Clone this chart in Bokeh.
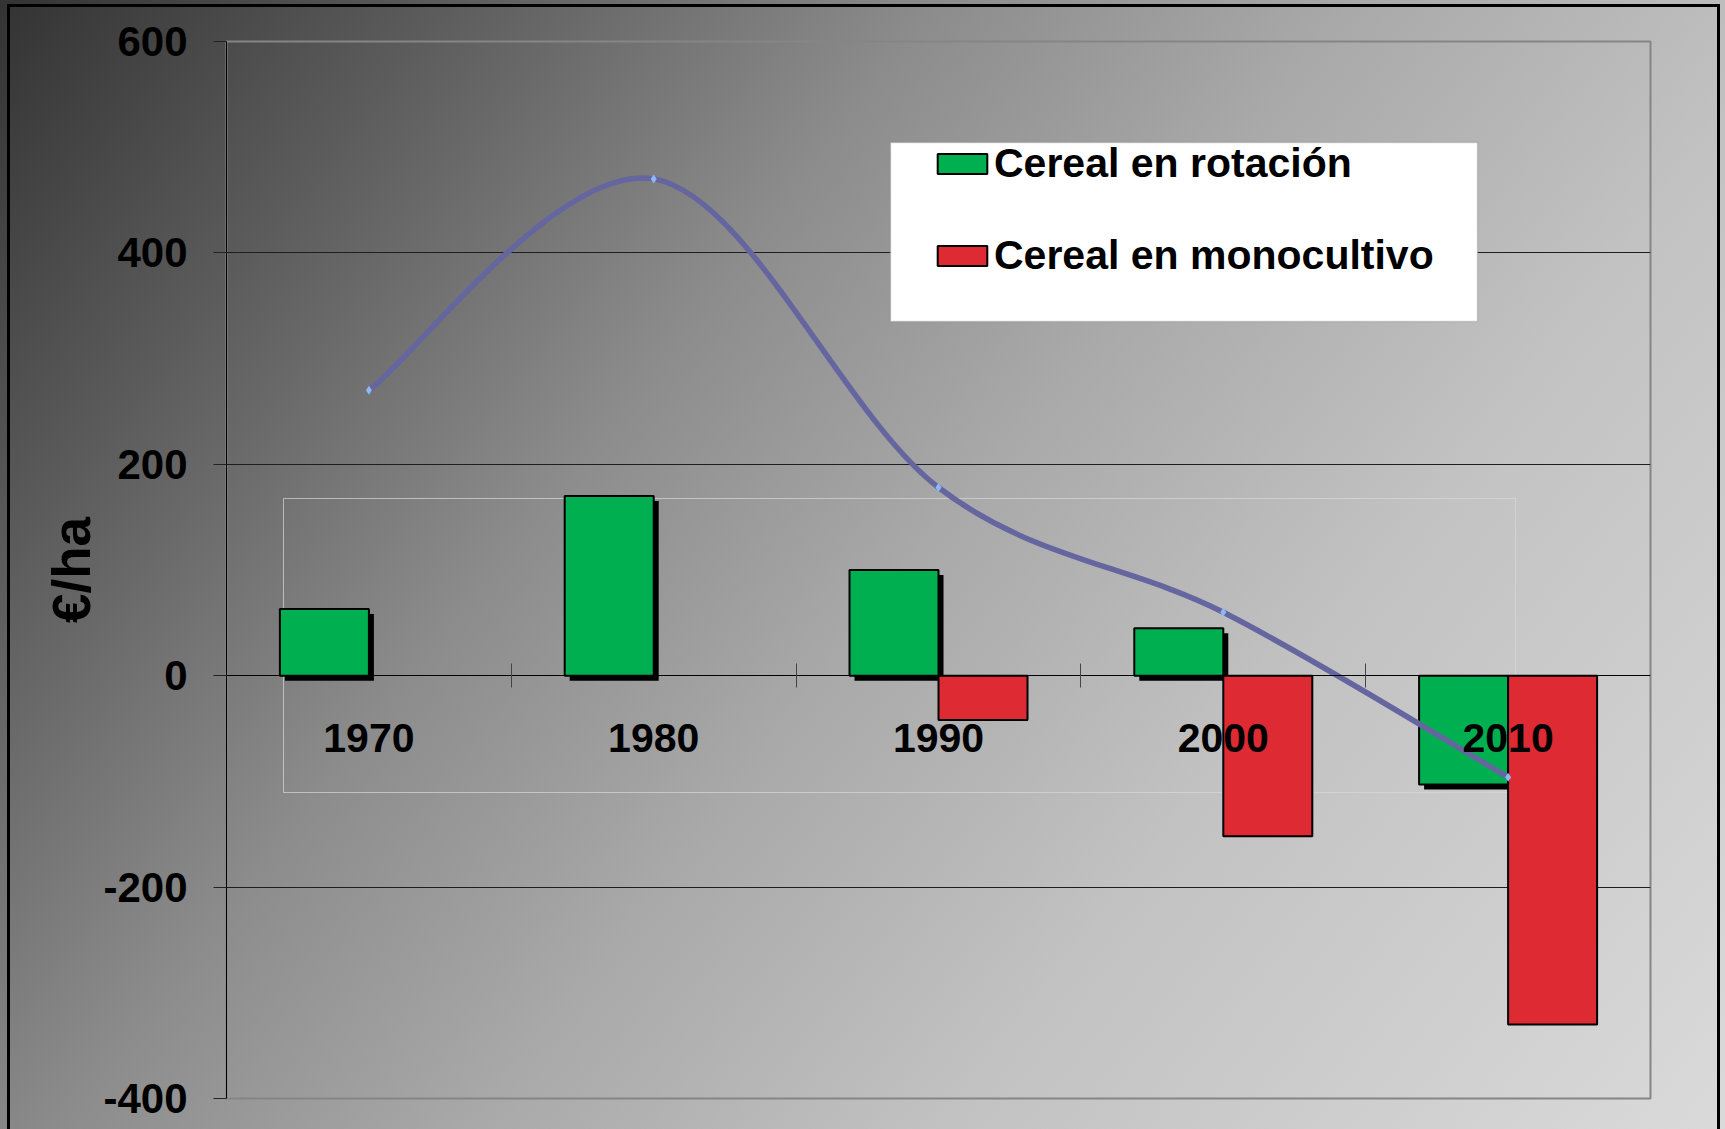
import numpy as np
from bokeh.plotting import figure
from bokeh.models import (ColumnDataSource, Range1d, LinearAxis, FixedTicker,
                          Legend, LegendItem, BoxAnnotation)
from bokeh.transform import dodge
from bokeh.embed import file_html
from bokeh.resources import INLINE

# ---------------- data ----------------
years = ["1970", "1980", "1990", "2000", "2010"]
rotacion = [63, 170, 100, 45, -103]                 # Cereal en rotación
monocultivo = [np.nan, np.nan, -42, -152, -330]     # Cereal en monocultivo
tendencia = [270, 470, 178, 60, -96]                # smoothed line
y_ticks = [-400, -200, 0, 200, 400, 600]
y_tick_labels = ["-400", "-200", "0", "200", "400", "600"]

# ---------------- layout / style ----------------
W, H = 1725, 1129
ML, MR, MT, MB = 226, 75, 41, 31
X0, X1 = 0, len(years)
Y0, Y1 = -400, 600
FONT = "Liberation Sans"
GREEN = "#00b050"
RED = "#de2a33"
LINE = "#6565a0"
BAR_W = 0.3125

FL, FR, FT, FB = ML, W - MR, MT, H - MB   # frame in canvas px


def px_x(px):
    return X0 + (px - FL) / (FR - FL) * (X1 - X0)


def px_y(py):
    return Y1 - (py - FT) / (FB - FT) * (Y1 - Y0)


SHADOW_DX = 5 / (FR - FL) * (X1 - X0)
SHADOW_DY = 5 / (FB - FT) * (Y1 - Y0)

xs = np.arange(len(years)) + 0.5
src = ColumnDataSource(dict(x=xs, rot=rotacion, mono=monocultivo))

p = figure(width=W, height=H, output_backend="svg", toolbar_location=None,
           x_range=Range1d(X0, X1), y_range=Range1d(Y0, Y1),
           x_axis_type=None, min_border_left=ML, min_border_right=MR,
           min_border_top=MT, min_border_bottom=MB)
p.styles = {
    "background":
        "linear-gradient(#000,#000) 7px 4px / 3px 100% no-repeat, "
        "linear-gradient(#000,#000) 7px 4px / 1713px 3px no-repeat, "
        "linear-gradient(#000,#000) 1717px 4px / 3px 100% no-repeat, "
        "linear-gradient(128deg, #333333 0%, #5e5e5e 18%, #8c8c8c 36%, "
        "#a9a9a9 52%, #c2c2c2 70%, #dadada 100%)",
}
p.background_fill_alpha = 0
p.border_fill_alpha = 0
p.outline_line_color = "#858585"
p.outline_line_width = 2

# grid
p.xgrid.visible = False
p.ygrid.ticker = FixedTicker(ticks=[-200, 200, 400])
p.ygrid.grid_line_color = "#1e1e1e"
p.ygrid.grid_line_width = 1

# y axis
ya = p.yaxis[0]
ya.ticker = FixedTicker(ticks=y_ticks)
ya.major_label_overrides = {t: lab for t, lab in zip(y_ticks, y_tick_labels)}
ya.axis_line_color = "#000000"
ya.major_tick_line_color = "#222222"
ya.major_tick_out = 13
ya.major_tick_in = 0
ya.minor_tick_out = 0
ya.minor_tick_in = 0
ya.major_label_standoff = 26
ya.major_label_text_font = FONT
ya.major_label_text_font_size = "42px"
ya.major_label_text_font_style = "bold"
ya.major_label_text_color = "#000000"
ya.axis_label = "€/ha"
ya.axis_label_text_font = FONT
ya.axis_label_text_font_size = "53px"
ya.axis_label_text_font_style = "bold"
ya.axis_label_text_color = "#000000"
ya.axis_label_standoff = -1

# inner faint rectangle
p.add_layout(BoxAnnotation(left=px_x(283), right=px_x(1515), top=px_y(498), bottom=px_y(792),
                           fill_color=None, line_color="#d8d8d8", line_alpha=0.7,
                           line_width=1, level="underlay"))

# bars
p.vbar(x=dodge("x", -BAR_W / 2 + SHADOW_DX), top=dodge("rot", -SHADOW_DY), bottom=-SHADOW_DY,
       width=BAR_W, source=src, fill_color="#000000", line_color=None)
g = p.vbar(x=dodge("x", -BAR_W / 2), top="rot", bottom=0, width=BAR_W, source=src,
           fill_color=GREEN, line_color="#000000", line_width=2)
r = p.vbar(x=dodge("x", BAR_W / 2), top="mono", bottom=0, width=BAR_W, source=src,
           fill_color=RED, line_color="#000000", line_width=2)

# smoothed line (Bezier through data points)
ys = np.array(tendencia, dtype=float)
xp = np.concatenate([[xs[0]], xs[:-1]])
yp = np.concatenate([[ys[0]], ys[:-1]])
xn = np.concatenate([xs[1:], [xs[-1]]])
yn = np.concatenate([ys[1:], [ys[-1]]])
cx0 = xs[:-1] + (xs[1:] - xp[:-1]) / 6
cy0 = ys[:-1] + (ys[1:] - yp[:-1]) / 6
cx1 = xs[1:] - (xn[1:] - xs[:-1]) / 6
cy1 = ys[1:] - (yn[1:] - ys[:-1]) / 6
p.bezier(x0=xs[:-1], y0=ys[:-1], x1=xs[1:], y1=ys[1:],
         cx0=cx0, cy0=cy0, cx1=cx1, cy1=cy1, line_color=LINE, line_width=5.5)
p.scatter(xs, ys, marker="diamond", size=9, fill_color="#8db8f5", line_color=None)

# x axes fixed at zero
xa = LinearAxis(fixed_location=0, ticker=FixedTicker(ticks=[1, 2, 3, 4]),
                major_tick_in=12, major_tick_out=12, minor_tick_in=0, minor_tick_out=0,
                major_tick_line_color="#444444", axis_line_color="#000000",
                major_label_text_color=None)
p.add_layout(xa, "below")
xb = LinearAxis(fixed_location=0, ticker=FixedTicker(ticks=list(xs)),
                major_label_overrides={float(x): lab for x, lab in zip(xs, years)},
                major_tick_in=0, major_tick_out=0, minor_tick_in=0, minor_tick_out=0,
                axis_line_color=None, major_label_standoff=48,
                major_label_text_font=FONT, major_label_text_font_size="41px",
                major_label_text_font_style="bold", major_label_text_color="#000000")
p.add_layout(xb, "below")

# legend box + legend
p.add_layout(BoxAnnotation(left=px_x(890), right=px_x(1477), top=px_y(142), bottom=px_y(321),
                           fill_color="#ffffff", fill_alpha=1, line_color="#7f7f7f",
                           line_width=1.5))
legend = Legend(items=[LegendItem(label="Cereal en rotación", renderers=[g]),
                       LegendItem(label="Cereal en monocultivo", renderers=[r])],
                location=(931 - FL, FB - 278.5), padding=0, margin=0, spacing=45,
                glyph_width=62, glyph_height=25, label_standoff=1,
                label_text_font=FONT, label_text_font_size="41px",
                label_text_font_style="bold", label_text_color="#000000",
                background_fill_alpha=0, border_line_color=None)
p.add_layout(legend, "center")

open("out.html", "w").write(file_html(p, INLINE))
